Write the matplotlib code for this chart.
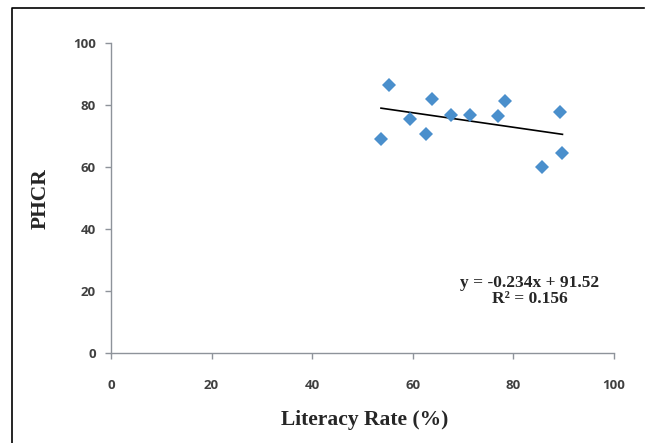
import numpy as np
import matplotlib.pyplot as plt
from matplotlib.lines import Line2D

# data
literacy = [53.7, 55.2, 59.5, 62.7, 63.8, 67.6, 71.5, 76.9, 78.4, 85.7, 89.4, 89.8]
phcr = [69.1, 86.5, 75.6, 70.6, 81.9, 76.8, 76.8, 76.4, 81.3, 60.1, 77.8, 64.5]
slope = -0.234
intercept = 91.52
r2 = 0.156
ticks = [0, 20, 40, 60, 80, 100]

fig = plt.figure(figsize=(6.52, 4.43), dpi=100)
ax = fig.add_axes([0.1703, 0.2032, 0.771, 0.700])

ax.plot(literacy, phcr, 'D', color='#4a8fcc', markersize=7.5, markeredgewidth=0, zorder=3)
xs = np.array([min(literacy), max(literacy)])
ax.plot(xs, slope * xs + intercept, color='black', lw=1.2, zorder=2)

ax.set_xlim(0, 100)
ax.set_ylim(0, 100)
ax.set_xticks(ticks)
ax.set_yticks(ticks)
for s in ['top', 'right']:
    ax.spines[s].set_visible(False)
for s in ['left', 'bottom']:
    ax.spines[s].set_color('#8e939a')
    ax.spines[s].set_linewidth(1.0)
ax.tick_params(direction='out', length=4.3, width=1, color='#8e939a',
               labelsize=9.5, labelcolor='#404040')
ax.tick_params(axis='x', pad=14.5)
ax.tick_params(axis='y', pad=6.5)
for lab in ax.get_xticklabels() + ax.get_yticklabels():
    lab.set_fontweight('bold')
    lab.set_family('Open Sans')

ax.set_xlabel('Literacy Rate (%)', family='Liberation Serif', fontweight='bold',
              fontsize=15.5, color='#262626')
ax.set_ylabel('PHCR', family='Liberation Serif', fontweight='bold',
              fontsize=15.5, color='#262626')
ax.xaxis.set_label_coords(0.505, -0.216)
ax.yaxis.set_label_coords(-0.139, 0.497)
ax.xaxis.label.set_va('center')
ax.yaxis.label.set_va('center')

ax.text(83.3, 20.0, f'y = {slope}x + {intercept}\nR² = {r2}', ha='center', va='center',
        family='Liberation Serif', fontweight='bold', fontsize=12.5, color='#262626',
        linespacing=1.05)

# outer frame (top and left edges only visible)
fig.lines.append(Line2D([12 / 652, 12 / 652, 644 / 652], [0, 1 - 7.5 / 443, 1 - 7.5 / 443],
                        transform=fig.transFigure, color='black', lw=1.2))

fig.savefig('out.png', dpi=100)
